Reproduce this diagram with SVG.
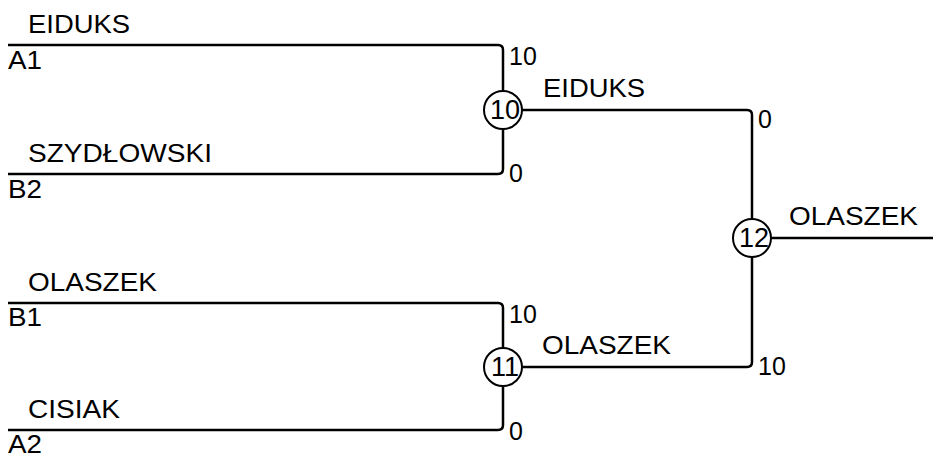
<svg xmlns="http://www.w3.org/2000/svg" width="933" height="457" viewBox="0 0 933 457">
<style>
.l{fill:none;stroke:#000;stroke-width:2.5}
.c{fill:#fff;stroke:#000;stroke-width:2}
text{font-family:"Liberation Sans",Arial,sans-serif;font-size:25px;fill:#000}
.m{text-anchor:middle;font-size:27px}
</style>
<rect width="933" height="457" fill="#fff"/>
<g id="connectors">
<path class="l" d="M8,45 H498 Q503,45 503,50 V91"/>
<path class="l" d="M8,174 H498 Q503,174 503,169 V129"/>
<path class="l" d="M8,303 H498 Q503,303 503,308 V348"/>
<path class="l" d="M8,430 H498 Q503,430 503,425 V386"/>
<path class="l" d="M522,110 H747 Q752,110 752,115 V219"/>
<path class="l" d="M522,367 H747 Q752,367 752,362 V257"/>
<path class="l" d="M771,238 H933"/>
</g>
<g id="p1"><text x="28" y="33" textLength="102" lengthAdjust="spacingAndGlyphs">EIDUKS</text><text x="8" y="69" textLength="34" lengthAdjust="spacingAndGlyphs">A1</text></g>
<g id="p2"><text x="28" y="162" textLength="184" lengthAdjust="spacingAndGlyphs">SZYDŁOWSKI</text><text x="8" y="198" textLength="34" lengthAdjust="spacingAndGlyphs">B2</text></g>
<g id="p3"><text x="28" y="291" textLength="129" lengthAdjust="spacingAndGlyphs">OLASZEK</text><text x="8" y="326" textLength="34" lengthAdjust="spacingAndGlyphs">B1</text></g>
<g id="p4"><text x="28" y="418" textLength="92" lengthAdjust="spacingAndGlyphs">CISIAK</text><text x="8" y="453" textLength="34" lengthAdjust="spacingAndGlyphs">A2</text></g>
<g id="m10"><circle class="c" cx="503" cy="110" r="19"/><text class="m" x="505" y="119">10</text>
<text x="509" y="65">10</text><text x="509" y="182">0</text><text x="543" y="97" textLength="102" lengthAdjust="spacingAndGlyphs">EIDUKS</text></g>
<g id="m11"><circle class="c" cx="503" cy="367" r="19"/><text class="m" x="505" y="376">11</text>
<text x="509" y="323">10</text><text x="509" y="440">0</text><text x="542" y="354" textLength="129" lengthAdjust="spacingAndGlyphs">OLASZEK</text></g>
<g id="m12"><circle class="c" cx="752" cy="238" r="19"/><text class="m" x="754" y="247">12</text>
<text x="758" y="128">0</text><text x="758" y="375">10</text><text x="789" y="225" textLength="129" lengthAdjust="spacingAndGlyphs">OLASZEK</text></g>
</svg>
